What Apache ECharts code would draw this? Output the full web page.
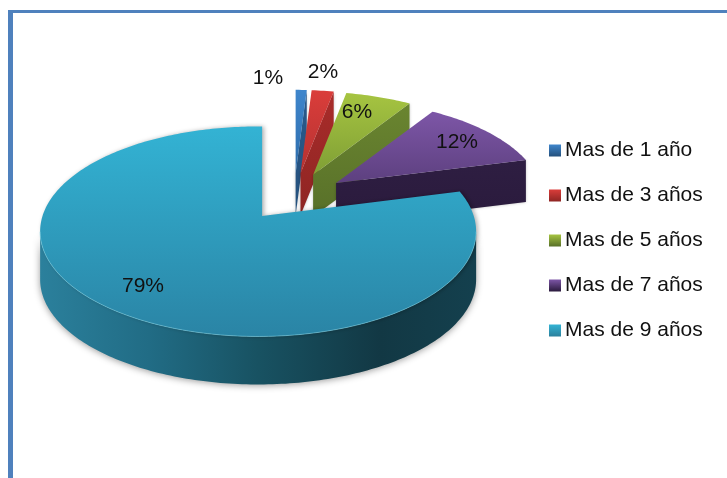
<!DOCTYPE html>
<html><head><meta charset="utf-8">
<style>html,body{margin:0;padding:0;background:#fff}#c{width:727px;height:478px}</style>
<script src="https://cdn.jsdelivr.net/npm/echarts@6/dist/echarts.min.js"></script>
</head><body><div id="c"></div>
<script>
const categories = ['Mas de 1 año','Mas de 3 años','Mas de 5 años','Mas de 7 años','Mas de 9 años'];
const values = [1, 2, 6, 12, 79];
const topColors = [['#3f86cc','#2d6cab'],['#da3d3a','#b53232'],['#a6c441','#7f9f35'],['#7d56a7','#5d407f'],['#33b3d4','#2a84a5']];
const wallColors = [['#2a5a8c','#24507c'],['#a92c2a','#8e2523'],['#6a8530','#587029'],['#2e1e42','#2a1a3c'],['#2b809c','#123844']];
const labelAt = [[268,78],[323,72],[357,112],[457,142],[143,286]];

const total = values.reduce((a,b)=>a+b,0);
const starts = values.map((_,i)=>values.slice(0,i).reduce((a,b)=>a+b,0));
const C = [294,197], E = [52,24], CO = [-4,15.5], RX = 218, RY = 105;
const FONT = '21px "Liberation Sans", Arial, sans-serif';

function vgrad(c){return {type:'linear',x:0,y:0,x2:0,y2:1,colorStops:[{offset:0,color:c[0]},{offset:1,color:c[1]}]};}

function render(i, api){
  const v = api.value(0);
  const a0 = starts[i]/total*360, a1 = (starts[i]+v)/total*360;
  const m = (a0+a1)/2*Math.PI/180;
  const back = Math.cos(m) > 0;
  const rx = RX*(back?0.965:1), ry = RY*(back?0.94:1), h = back?42:48;
  const apex = [C[0]+E[0]*Math.sin(m), C[1]-E[1]*Math.cos(m)];
  const cen = [apex[0]+CO[0], apex[1]+CO[1]];
  const rim = deg => {
    const t = deg*Math.PI/180, dx = Math.sin(t), dy = -Math.cos(t);
    const px = -CO[0]/rx, py = -CO[1]/ry;
    const pd = px*dx+py*dy, pp = px*px+py*py;
    const s = -pd + Math.sqrt(pd*pd - pp + 1);
    return [cen[0]+(px+s*dx)*rx, cen[1]+(py+s*dy)*ry];
  };
  const arc = [];
  for(let d=a0; d<a1; d+=1) arc.push(rim(d));
  arc.push(rim(a1));
  const children = [];
  const front = arc.filter(p=>p[1]>cen[1]);
  if(front.length>1){
    children.push({type:'polygon',shape:{points:front.concat(front.slice().reverse().map(p=>[p[0],p[1]+h]))},
      style:{fill:{type:'linear',x:0,y:0,x2:1,y2:0,colorStops:[
        {offset:0,color:wallColors[i][0]},{offset:.25,color:'#216c85'},{offset:.5,color:'#185262'},{offset:.78,color:wallColors[i][1]},{offset:1,color:'#14404e'}]},
        shadowBlur:7,shadowColor:'rgba(0,0,0,.4)',shadowOffsetY:1}});
  }
  if(a1<180){
    const e = rim(a1);
    children.push({type:'polygon',shape:{points:[apex,e,[e[0],e[1]+h],[apex[0],apex[1]+h]]},
      style:{fill:vgrad(wallColors[i]),shadowBlur:3,shadowColor:'rgba(0,0,0,.25)'}});
  }
  children.push({type:'polygon',shape:{points:[apex].concat(arc)},style:{fill:vgrad(topColors[i]),
    shadowBlur:back?0:4,shadowColor:'rgba(0,0,0,.3)',shadowOffsetX:back?0:2}});
  if(!back){
    children.push({type:'polyline',shape:{points:front},style:{fill:null,stroke:'rgba(120,210,230,.55)',lineWidth:1}});
  }
  children.push({type:'text',z2:50,style:{text:v+'%',x:labelAt[i][0],y:labelAt[i][1],align:'center',verticalAlign:'middle',font:FONT,fill:'#111'}});
  return {type:'group',children};
}

const chart = echarts.init(document.getElementById('c'),null,{renderer:'canvas'});
chart.setOption({
  animation:false,
  backgroundColor:'#fff',
  legend:{
    orient:'vertical',left:549,top:140,padding:0,itemWidth:12,itemHeight:12,itemGap:24,
    selectedMode:false,
    textStyle:{fontFamily:'"Liberation Sans", Arial, sans-serif',fontSize:21,color:'#111',padding:[0,0,0,-1]},
    data:categories.map((name,i)=>({name,icon:'rect',itemStyle:{color:vgrad([topColors[i][0],wallColors[i][i==4?0:1]]),borderWidth:0}}))
  },
  graphic:[
    {type:'rect',silent:true,shape:{x:8,y:10,width:719,height:3},style:{fill:'#4f81bd'}},
    {type:'rect',silent:true,shape:{x:8,y:10,width:5,height:468},style:{fill:'#4f81bd'}}
  ],
  series:categories.map((name,i)=>({
    type:'custom',name,coordinateSystem:'none',silent:true,clip:false,
    z:2+i,
    itemStyle:{color:topColors[i][0]},
    data:[{name,value:[values[i]]}],
    renderItem:(params,api)=>render(i,api)
  }))
});
</script></body></html>
